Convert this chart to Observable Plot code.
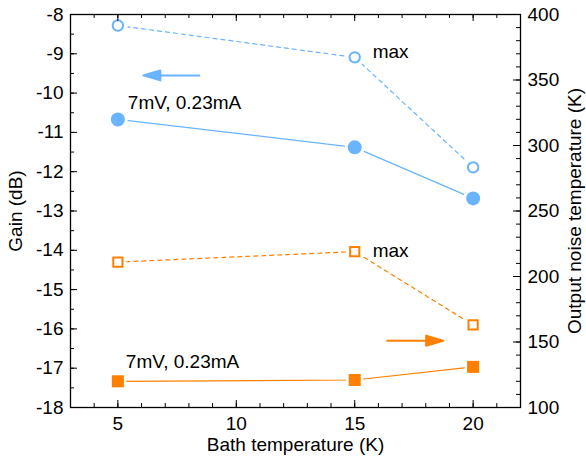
<!DOCTYPE html>
<html><head><meta charset="utf-8">
<script src="https://cdn.jsdelivr.net/npm/d3@7"></script>
<script src="https://cdn.jsdelivr.net/npm/@observablehq/plot@0.6"></script>
<style>body{margin:0;background:#fff} svg{font-family:Arial,"Liberation Sans",sans-serif}</style>
</head><body><div id="chart"></div>
<script>
// ---- data ----
const bathT = [5, 15, 20];
const gainMax = [-8.28, -9.09, -11.89];      // dB, left axis
const gain7mV = [-10.67, -11.38, -12.68];    // dB, left axis
const noiseMax = [211, 219, 163];            // K, right axis
const noise7mV = [120, 121, 131];            // K, right axis
const xTicks = [5, 10, 15, 20];
const gainTicks = [-18, -17, -16, -15, -14, -13, -12, -11, -10, -9, -8];
const noiseTicks = [100, 150, 200, 250, 300, 350, 400];
const labelMax = "max";
const labelBias = "7mV, 0.23mA";

// right axis (K) expressed in left-axis (dB) units
const toGain = K => -18 + (K - 100) / 30;

const blue = "#68b4ff", orange = "#ff8000";
const W = 586, H = 460, mL = 70, mR = 66, mT = 14, mB = 53;
const fw = W - mL - mR, fh = H - mT - mB;
const fs = 19;

const rowsGainMax = bathT.map((x, i) => ({x, y: gainMax[i]}));
const rowsGain7 = bathT.map((x, i) => ({x, y: gain7mV[i]}));
const rowsNoiseMax = bathT.map((x, i) => ({x, y: toGain(noiseMax[i])}));
const rowsNoise7 = bathT.map((x, i) => ({x, y: toGain(noise7mV[i])}));

const xMinor = d3.range(3, 23);
const gainMinor = d3.range(-18, -7.99, 0.5);
const noiseMinor = d3.range(100, 401, 10);

const headArrow = {draw(context, l, r) {
  const hl = 17, hw = 5;
  context.moveTo(0, 0); context.lineTo(0, -l + hl);
  context.moveTo(0, -l); context.lineTo(-hw, -l + hl); context.lineTo(hw, -l + hl); context.closePath();
}};

const chart = Plot.plot({
  width: W, height: H,
  marginLeft: mL, marginRight: mR, marginTop: mT, marginBottom: mB,
  x: {domain: [3, 22], axis: null},
  y: {domain: [-18, -8], axis: null},
  style: {fontFamily: "Arial, 'Liberation Sans', sans-serif", background: "white"},
  marks: [
    // lines
    Plot.line(rowsGainMax, {x: "x", y: "y", stroke: blue, strokeWidth: 1.2, strokeDasharray: "4,4"}),
    Plot.line(rowsGain7, {x: "x", y: "y", stroke: blue, strokeWidth: 1.2}),
    Plot.line(rowsNoiseMax, {x: "x", y: "y", stroke: orange, strokeWidth: 1.2, strokeDasharray: "4,4"}),
    Plot.line(rowsNoise7, {x: "x", y: "y", stroke: orange, strokeWidth: 1.2}),
    // white gaps around markers
    Plot.dot([...rowsGainMax, ...rowsGain7], {x: "x", y: "y", r: 10, fill: "white"}),
    Plot.dot([...rowsNoiseMax, ...rowsNoise7], {x: "x", y: "y", r: 9.5, symbol: "square", fill: "white"}),
    // markers
    Plot.dot(rowsGainMax, {x: "x", y: "y", r: 5.2, stroke: blue, strokeWidth: 2, fill: "white"}),
    Plot.dot(rowsGain7, {x: "x", y: "y", r: 7, fill: blue}),
    Plot.dot(rowsNoiseMax, {x: "x", y: "y", r: 5.2, symbol: "square", stroke: orange, strokeWidth: 2, fill: "white"}),
    Plot.dot(rowsNoise7, {x: "x", y: "y", r: 6.8, symbol: "square", fill: orange}),
    // annotations
    Plot.text([rowsGainMax[1]], {x: "x", y: "y", text: () => labelMax, textAnchor: "start", dx: 18, dy: -5, fontSize: fs}),
    Plot.text([rowsNoiseMax[1]], {x: "x", y: "y", text: () => labelMax, textAnchor: "start", dx: 18, dy: -1, fontSize: fs}),
    Plot.text([rowsGain7[0]], {x: "x", y: "y", text: () => labelBias, textAnchor: "start", dx: 10, dy: -17, fontSize: fs}),
    Plot.text([rowsNoise7[0]], {x: "x", y: "y", text: () => labelBias, textAnchor: "start", dx: 8, dy: -19, fontSize: fs}),
    Plot.vector([{x: 8.44, y: -9.55}], {x: "x", y: "y", length: 56, rotate: -90, anchor: "start", shape: headArrow, stroke: blue, fill: blue, strokeWidth: 2}),
    Plot.vector([{x: 16.37, y: toGain(151)}], {x: "x", y: "y", length: 56, rotate: 90, anchor: "start", shape: headArrow, stroke: orange, fill: orange, strokeWidth: 2}),
    // frame and inward ticks
    Plot.frame({stroke: "black", strokeWidth: 1.3}),
    Plot.tickX(xMinor, {x: d => d, insetTop: fh - 4, stroke: "black"}),
    Plot.tickX(xTicks, {x: d => d, insetTop: fh - 7, stroke: "black"}),
    Plot.tickX(xMinor, {x: d => d, insetBottom: fh - 4, stroke: "black"}),
    Plot.tickX(xTicks, {x: d => d, insetBottom: fh - 7, stroke: "black"}),
    Plot.tickY(gainMinor, {y: d => d, insetRight: fw - 4, stroke: "black"}),
    Plot.tickY(gainTicks, {y: d => d, insetRight: fw - 7, stroke: "black"}),
    Plot.tickY(noiseMinor, {y: d => toGain(d), insetLeft: fw - 4, stroke: "black"}),
    Plot.tickY(noiseTicks, {y: d => toGain(d), insetLeft: fw - 7, stroke: "black"}),
    // tick labels
    Plot.text(xTicks, {x: d => d, text: d => String(d), frameAnchor: "bottom", lineAnchor: "top", dy: 9, fontSize: fs, fill: "black"}),
    Plot.text(gainTicks, {y: d => d, text: d => String(d), frameAnchor: "left", textAnchor: "end", dx: -7, fontSize: fs, fill: "black"}),
    Plot.text(noiseTicks, {y: d => toGain(d), text: d => String(d), frameAnchor: "right", textAnchor: "start", dx: 7, fontSize: fs, fill: "black"}),
    // axis titles
    Plot.text(["Bath temperature (K)"], {text: d => d, frameAnchor: "bottom", lineAnchor: "middle", textAnchor: "middle", dy: 37, fontSize: fs, fill: "black"}),
    Plot.text(["Gain (dB)"], {text: d => d, frameAnchor: "left", textAnchor: "middle", lineAnchor: "middle", rotate: -90, dx: -55, fontSize: fs, fill: "black"}),
    Plot.text(["Output noise temperature (K)"], {text: d => d, frameAnchor: "right", textAnchor: "middle", lineAnchor: "middle", rotate: -90, dx: 54, fontSize: fs, fill: "black"})
  ]
});
document.getElementById("chart").append(chart);
</script>
</body></html>
